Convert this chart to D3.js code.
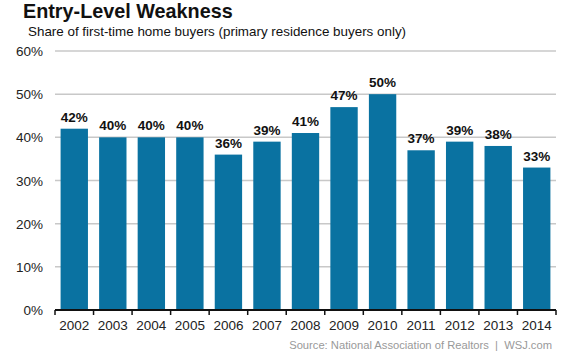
<!DOCTYPE html>
<html>
<head>
<meta charset="utf-8">
<script src="https://cdn.jsdelivr.net/npm/d3@7"></script>
<style>
  body { margin: 0; background: #fff; }
  text { font-family: "Liberation Sans", Arial, sans-serif; }
</style>
</head>
<body>
<div class="chart"></div>
<script>
var years = ["2002", "2003", "2004", "2005", "2006", "2007", "2008", "2009", "2010", "2011", "2012", "2013", "2014"]
var shares = [42, 40, 40, 40, 36, 39, 41, 47, 50, 37, 39, 38, 33]
var yTicks = [0, 10, 20, 30, 40, 50, 60]

var svg = d3.select(".chart").append("svg").attr("width", 571).attr("height", 361)

var x = d3.scaleBand().domain(years).range([55, 556]).paddingInner(0.29).paddingOuter(0.145)
var y = d3.scaleLinear().domain([0, 60]).range([310, 51])

// gridlines
svg.selectAll(".grid")
  .data(yTicks.slice(1))
  .enter()
  .append("line")
  .attr("x1", 55)
  .attr("x2", 556)
  .attr("y1", d => y(d))
  .attr("y2", d => y(d))
  .style("stroke", "#c8c8c8")
  .style("stroke-width", 1.5)

// y labels
svg.selectAll(".ylab")
  .data(yTicks)
  .enter()
  .append("text")
  .attr("x", 43)
  .attr("y", d => y(d) + 5)
  .attr("text-anchor", "end")
  .text(d => d + "%")
  .style("font-size", "13.5px")
  .style("fill", "#222")

// bars
svg.selectAll("rect")
  .data(shares)
  .enter()
  .append("rect")
  .attr("x", (d, i) => x(years[i]))
  .attr("y", d => y(d))
  .attr("width", x.bandwidth())
  .attr("height", d => y(0) - y(d))
  .style("fill", "#0a72a1")

// value labels
svg.selectAll(".val")
  .data(shares)
  .enter()
  .append("text")
  .attr("x", (d, i) => x(years[i]) + x.bandwidth() / 2)
  .attr("y", d => y(d) - 7)
  .attr("text-anchor", "middle")
  .text(d => d + "%")
  .style("font-size", "13.5px")
  .style("font-weight", "bold")
  .style("fill", "#111")

// x axis
var step = x.step()
svg.append("line")
  .attr("x1", 55).attr("x2", 556)
  .attr("y1", y(0)).attr("y2", y(0))
  .style("stroke", "#111").style("stroke-width", 2)

svg.selectAll(".tick")
  .data(d3.range(years.length + 1))
  .enter()
  .append("line")
  .attr("x1", i => 55 + i * step)
  .attr("x2", i => 55 + i * step)
  .attr("y1", y(0))
  .attr("y2", y(0) + 5)
  .style("stroke", "#111").style("stroke-width", 1.5)

svg.selectAll(".xlab")
  .data(years)
  .enter()
  .append("text")
  .attr("x", d => x(d) + x.bandwidth() / 2)
  .attr("y", 330)
  .attr("text-anchor", "middle")
  .text(d => d)
  .style("font-size", "13.5px")
  .style("fill", "#222")

// titles
svg.append("text").attr("x", 23).attr("y", 18).text("Entry-Level Weakness")
  .style("font-size", "19.8px").style("font-weight", "bold").style("fill", "#111")
svg.append("text").attr("x", 28).attr("y", 36).text("Share of first-time home buyers (primary residence buyers only)")
  .style("font-size", "13.4px").style("fill", "#111")
svg.append("text").attr("x", 552).attr("y", 349).attr("text-anchor", "end")
  .text("Source: National Association of Realtors  |  WSJ.com")
  .style("white-space", "pre")
  .style("font-size", "11.2px").style("fill", "#999")
</script>
</body>
</html>
